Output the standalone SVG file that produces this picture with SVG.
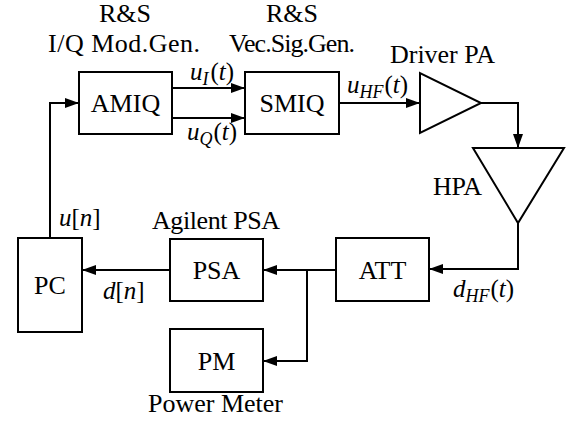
<svg xmlns="http://www.w3.org/2000/svg" width="573" height="424" viewBox="0 0 573 424">
<defs>
<marker id="arr" markerUnits="userSpaceOnUse" markerWidth="14" markerHeight="10" refX="14" refY="5" orient="auto">
<path d="M0,0 L14,5 L0,10 z" fill="#000"/>
</marker>
<style>
.box{fill:#fff;stroke:#000;stroke-width:2}
.t{font-family:"Liberation Serif",serif;font-size:26px;fill:#000}
.c{text-anchor:middle}
.m{font-family:"Liberation Serif",serif;font-size:25px;fill:#000}
.i{font-style:italic}
.s{font-size:18px;font-style:italic}
.w{fill:none;stroke:#000;stroke-width:2}
</style>
</defs>
<rect width="573" height="424" fill="#fff"/>
<g id="connectors">
<path class="w" d="M50,238 V103 H79" marker-end="url(#arr)"/>
<path class="w" d="M172,88 H245" marker-end="url(#arr)"/>
<path class="w" d="M172,118 H245" marker-end="url(#arr)"/>
<path class="w" d="M339,103 H420" marker-end="url(#arr)"/>
<path class="w" d="M481,103 H518 V148" marker-end="url(#arr)"/>
<path class="w" d="M518,223 V269 H429" marker-end="url(#arr)"/>
<path class="w" d="M336,270 H263" marker-end="url(#arr)"/>
<path class="w" d="M307,270 V361 H263" marker-end="url(#arr)"/>
<path class="w" d="M170,270 H82" marker-end="url(#arr)"/>
</g>
<g id="amiq">
<rect class="box" x="79" y="72" width="93" height="62"/>
<text class="t c" x="125.5" y="112">AMIQ</text>
<text class="t c" x="125" y="22">R&amp;S</text>
<text class="t c" x="124" y="52" textLength="152">I/Q Mod.Gen.</text>
</g>
<g id="smiq">
<rect class="box" x="245" y="72" width="94" height="62"/>
<text class="t c" x="292" y="112">SMIQ</text>
<text class="t c" x="292" y="22">R&amp;S</text>
<text class="t c" x="292" y="52" textLength="126">Vec.Sig.Gen.</text>
</g>
<g id="driver">
<polygon class="box" points="420,73 420,133 481,103"/>
<text class="t" x="390" y="63" textLength="105">Driver PA</text>
</g>
<g id="hpa">
<polygon class="box" points="473,148 564,148 518,223"/>
<text class="t" x="433" y="195" textLength="49">HPA</text>
</g>
<g id="att">
<rect class="box" x="336" y="238" width="93" height="63"/>
<text class="t c" x="382.5" y="279">ATT</text>
</g>
<g id="psa">
<rect class="box" x="170" y="239" width="93" height="62"/>
<text class="t c" x="216.5" y="279">PSA</text>
<text class="t" x="152" y="229" textLength="128">Agilent PSA</text>
</g>
<g id="pm">
<rect class="box" x="170" y="329" width="93" height="63"/>
<text class="t c" x="216.5" y="370">PM</text>
<text class="t" x="148" y="412" textLength="135">Power Meter</text>
</g>
<g id="pc">
<rect class="box" x="18" y="238" width="64" height="94"/>
<text class="t c" x="50" y="294">PC</text>
</g>
<g id="labels">
<text class="m" x="190" y="80"><tspan class="i">u</tspan><tspan class="s" dy="5">I</tspan><tspan dy="-5" dx="2">(</tspan><tspan class="i">t</tspan>)</text>
<text class="m" x="187" y="140"><tspan class="i">u</tspan><tspan class="s" dy="5">Q</tspan><tspan dy="-5" dx="1">(</tspan><tspan class="i">t</tspan>)</text>
<text class="m" x="347" y="93"><tspan class="i">u</tspan><tspan class="s" dy="5">HF</tspan><tspan dy="-5" dx="1">(</tspan><tspan class="i">t</tspan>)</text>
<text class="m" x="453" y="297"><tspan class="i">d</tspan><tspan class="s" dy="5">HF</tspan><tspan dy="-5" dx="1">(</tspan><tspan class="i">t</tspan>)</text>
<text class="m" x="59" y="226"><tspan class="i">u</tspan>[<tspan class="i">n</tspan>]</text>
<text class="m" x="103" y="299"><tspan class="i">d</tspan>[<tspan class="i">n</tspan>]</text>
</g>
</svg>
